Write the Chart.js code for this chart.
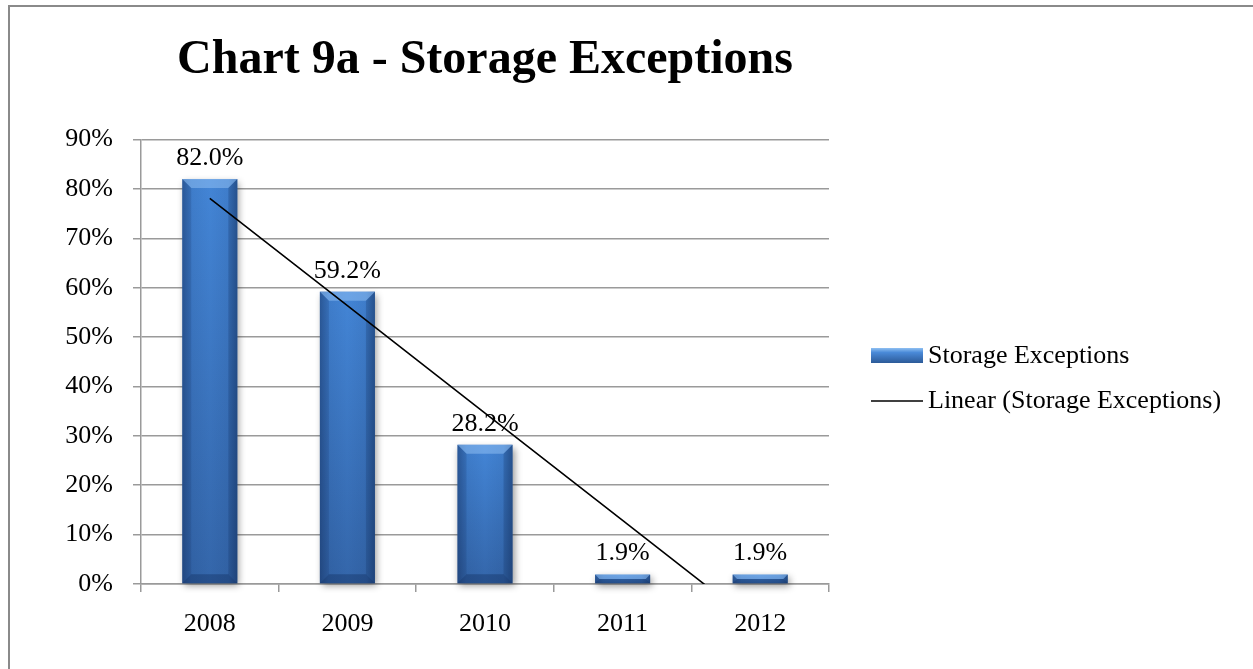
<!DOCTYPE html>
<html>

<head>
    <title>Storage Exceptions</title>
    <script src="https://cdn.jsdelivr.net/npm/chart.js@4.4.1/dist/chart.umd.min.js"></script>
    <style>
        body { margin: 0; background: #ffffff; }
        #wrap { width: 1253px; height: 669px; }
    </style>
    <script>
        // chart data
        var years = ['2008', '2009', '2010', '2011', '2012'];
        var exceptions = [82.0, 59.2, 28.2, 1.9, 1.9];
        var trend = [78.1, 56.4, 34.6, 12.9, -8.9];
        var yTicks = [0, 10, 20, 30, 40, 50, 60, 70, 80, 90];

        var serif = '"Liberation Serif", "Times New Roman", serif';
        var gridGray = '#9a9a9a';
        var BAR_SET = 1;
        var TREND_SET = 0;

        // frame round the whole chart
        var framePlugin = {
            id: 'frame',
            beforeDraw: function (chart) {
                var ctx = chart.ctx;
                ctx.save();
                ctx.fillStyle = '#ffffff';
                ctx.fillRect(0, 0, chart.width, chart.height);
                ctx.strokeStyle = '#8a8a8a';
                ctx.lineWidth = 2;
                ctx.strokeRect(9, 6, 1400, 900);
                ctx.restore();
            }
        };

        // beveled blue bars, painted over the element boxes
        var bevelPlugin = {
            id: 'bevel',
            afterDatasetDraw: function (chart, args) {
                if (args.index !== BAR_SET) return;
                var ctx = chart.ctx;
                args.meta.data.forEach(function (bar) {
                    var p = bar.getProps(['x', 'y', 'base', 'width'], true);
                    var l = p.x - p.width / 2, r = p.x + p.width / 2;
                    var t = p.y, b = p.base, h = b - t;
                    var bv = Math.min(9, h / 2);

                    ctx.save();
                    // drop shadow + body
                    ctx.shadowColor = 'rgba(0,0,0,0.4)';
                    ctx.shadowBlur = 7;
                    ctx.shadowOffsetX = 2;
                    ctx.shadowOffsetY = 3;
                    var v = ctx.createLinearGradient(0, t, 0, b);
                    v.addColorStop(0, '#4385d6');
                    v.addColorStop(1, '#3466aa');
                    ctx.fillStyle = v;
                    ctx.fillRect(l, t, r - l, h);
                    ctx.restore();

                    ctx.save();
                    var g = ctx.createLinearGradient(l, 0, r, 0);
                    g.addColorStop(0, 'rgba(10,30,70,0.35)');
                    g.addColorStop(0.16, 'rgba(10,30,70,0.08)');
                    g.addColorStop(0.5, 'rgba(10,30,70,0)');
                    g.addColorStop(0.84, 'rgba(10,30,70,0.08)');
                    g.addColorStop(1, 'rgba(10,30,70,0.4)');
                    ctx.fillStyle = g;
                    ctx.fillRect(l, t, r - l, h);

                    // top bevel
                    ctx.beginPath();
                    ctx.moveTo(l, t);
                    ctx.lineTo(r, t);
                    ctx.lineTo(r - bv, t + bv);
                    ctx.lineTo(l + bv, t + bv);
                    ctx.closePath();
                    ctx.fillStyle = 'rgba(150,195,245,0.5)';
                    ctx.fill();

                    // bottom bevel
                    ctx.beginPath();
                    ctx.moveTo(l, b);
                    ctx.lineTo(r, b);
                    ctx.lineTo(r - bv, b - bv);
                    ctx.lineTo(l + bv, b - bv);
                    ctx.closePath();
                    ctx.fillStyle = 'rgba(15,40,85,0.35)';
                    ctx.fill();

                    // side bevels
                    ctx.beginPath();
                    ctx.moveTo(l, t);
                    ctx.lineTo(l + bv, t + bv);
                    ctx.lineTo(l + bv, b - bv);
                    ctx.lineTo(l, b);
                    ctx.closePath();
                    ctx.fillStyle = 'rgba(20,50,100,0.18)';
                    ctx.fill();
                    ctx.beginPath();
                    ctx.moveTo(r, t);
                    ctx.lineTo(r - bv, t + bv);
                    ctx.lineTo(r - bv, b - bv);
                    ctx.lineTo(r, b);
                    ctx.closePath();
                    ctx.fillStyle = 'rgba(20,50,100,0.25)';
                    ctx.fill();
                    ctx.restore();
                });
            }
        };

        // value labels above each bar
        var valuePlugin = {
            id: 'values',
            afterDatasetsDraw: function (chart) {
                var ctx = chart.ctx;
                var meta = chart.getDatasetMeta(BAR_SET);
                ctx.save();
                ctx.font = '26px ' + serif;
                ctx.fillStyle = '#000000';
                ctx.textAlign = 'center';
                ctx.textBaseline = 'middle';
                meta.data.forEach(function (bar, i) {
                    ctx.fillText(exceptions[i].toFixed(1) + '%', bar.x, bar.y - 21);
                });
                ctx.restore();
            }
        };

        // legend on the right
        var legendPlugin = {
            id: 'sideLegend',
            afterDraw: function (chart) {
                var ctx = chart.ctx;
                var x0 = 871, x1 = 923;
                ctx.save();
                var g = ctx.createLinearGradient(0, 348, 0, 363);
                g.addColorStop(0, '#8fc0f2');
                g.addColorStop(0.3, '#4a8ad8');
                g.addColorStop(1, '#2c5a98');
                ctx.fillStyle = g;
                ctx.fillRect(x0, 348, x1 - x0, 15);

                ctx.strokeStyle = '#000000';
                ctx.lineWidth = 1.5;
                ctx.beginPath();
                ctx.moveTo(x0, 401);
                ctx.lineTo(x1, 401);
                ctx.stroke();

                ctx.font = '26px ' + serif;
                ctx.fillStyle = '#000000';
                ctx.textBaseline = 'middle';
                ctx.fillText(chart.data.datasets[BAR_SET].label, 928, 356);
                ctx.fillText(chart.data.datasets[TREND_SET].label, 928, 401);
                ctx.restore();
            }
        };

        window.addEventListener('load', function () {
            new Chart(document.getElementById('chart').getContext('2d'), {
                data: {
                    labels: years,
                    datasets: [{
                        type: 'line',
                        label: 'Linear (Storage Exceptions)',
                        data: trend,
                        borderColor: '#000000',
                        borderWidth: 1.6,
                        pointRadius: 0,
                        tension: 0,
                        fill: false,
                        order: 0
                    }, {
                        type: 'bar',
                        label: 'Storage Exceptions',
                        data: exceptions,
                        backgroundColor: 'rgba(0,0,0,0)',
                        barPercentage: 0.4,
                        categoryPercentage: 1.0,
                        order: 1
                    }]
                },
                options: {
                    responsive: false,
                    animation: false,
                    events: [],
                    layout: { padding: { left: 0, right: 424, top: 0, bottom: 0 } },
                    plugins: {
                        legend: { display: false },
                        tooltip: { enabled: false },
                        title: {
                            display: true,
                            fullSize: false,
                            text: 'Chart 9a - Storage Exceptions',
                            color: '#000000',
                            font: { family: serif, size: 48, weight: 'bold', lineHeight: 1.2 },
                            padding: { top: 32, bottom: 50 }
                        }
                    },
                    scales: {
                        x: {
                            afterFit: function (scale) { scale.height = 85; },
                            grid: {
                                offset: true,
                                drawOnChartArea: false,
                                drawTicks: true,
                                tickLength: 8,
                                color: gridGray,
                                lineWidth: 1.5
                            },
                            border: { color: gridGray, width: 1.5 },
                            ticks: {
                                color: '#000000',
                                padding: 17,
                                maxRotation: 0,
                                font: { family: serif, size: 26 }
                            }
                        },
                        y: {
                            min: 0,
                            max: 90,
                            afterFit: function (scale) { scale.width = 141; },
                            afterBuildTicks: function (scale) {
                                scale.ticks = yTicks.map(function (v) { return { value: v }; });
                            },
                            grid: {
                                drawTicks: true,
                                tickLength: 8,
                                color: gridGray,
                                lineWidth: 1.5
                            },
                            border: { color: gridGray, width: 1.5 },
                            ticks: {
                                color: '#000000',
                                padding: 20,
                                font: { family: serif, size: 26 },
                                callback: function (v) { return v + '%'; }
                            }
                        }
                    }
                },
                plugins: [framePlugin, bevelPlugin, valuePlugin, legendPlugin]
            });
        });
    </script>
</head>

<body>
    <div id="wrap">
        <canvas id="chart" width="1253" height="669"></canvas>
    </div>
</body>

</html>
